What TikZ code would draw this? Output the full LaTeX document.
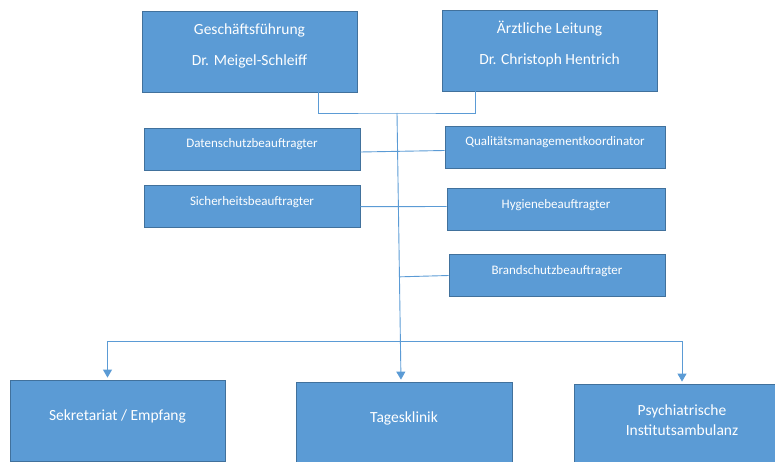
\documentclass[tikz,border=0pt]{standalone}
\usepackage{fontspec}
\setmainfont{Carlito}
\usetikzlibrary{arrows.meta,positioning,calc}
\definecolor{boxblue}{HTML}{5B9BD5}
\definecolor{boxline}{HTML}{41719C}
\definecolor{linkblue}{HTML}{5B9BD5}
\tikzset{
  bigbox/.style = { draw=boxline, fill=boxblue, text=white, line width=0.8pt,
    minimum width=215pt, minimum height=81pt, inner sep=0pt, align=center,
    font=\fontsize{15.5}{19}\selectfont, text height=11pt, text depth=#1 },
  bigbox/.default = 12pt,
  smbox/.style  = { draw=boxline, fill=boxblue, text=white, line width=0.8pt,
    minimum width=216pt, minimum height=42pt, inner sep=0pt,
    font=\fontsize{13}{16}\selectfont, text height=8pt, text depth=11pt },
  conn/.style   = { draw=linkblue, line width=0.9pt },
  arr/.style    = { conn, -{Triangle[width=9pt,length=8pt]}, shorten >=2pt }
}
\begin{document}
\begin{tikzpicture}[x=1pt,y=-1pt]
    \useasboundingbox (0,0) rectangle (775,462);
    % Leitung
    \node[bigbox=13pt, text height=42pt] (gf) at (249.5,51.5) {Geschäftsführung\\[12pt]Dr. Meigel-Schleiff};
    \node[bigbox=13pt, text height=42pt] (al) at (549.5,50.5) {Ärztliche Leitung\\[12pt]Dr. Christoph Hentrich};
    % Beauftragte
    \node[smbox] (ds) at (252,149) {Datenschutzbeauftragter};
    \node[smbox, minimum width=220pt] (qm) at (555,147.5) {Qualitätsmanagementkoordinator};
    \node[smbox] (sb) at (252,206.7) {Sicherheitsbeauftragter};
    \node[smbox, minimum width=218pt] (hy) at (556,209.5) {Hygienebeauftragter};
    \node[smbox] (bs) at (557,275.5) {Brandschutzbeauftragter};
    % Bereiche
    \node[bigbox] (sk) at (117.5,420.5) {Sekretariat / Empfang};
    \node[bigbox, minimum width=216pt] (tk) at (404,422.5) {Tagesklinik};
    \node[bigbox=10pt, text height=31pt, minimum width=216pt] (pa) at (682,424.5) {Psychiatrische\\[1pt]Institutsambulanz};
    \coordinate (jn) at (397,113);
    \coordinate (tkin) at ([xshift=-3pt]tk.north);
    \draw[conn] ([xshift=69pt]gf.south) |- (jn) -| ([xshift=-74.5pt]al.south);
    \draw[arr] (jn) -- (tkin);
    \path[conn] ([yshift=-3pt]ds.east) edge ([yshift=-3pt]qm.west)
                (sb.east) edge ([yshift=3pt]hy.west);
    \draw[conn] ($(jn)!0.61!(tkin)$) -- (bs.west);
    \coordinate (br) at ($(jn)!0.85!(tkin)$);
    \draw[arr] (br) -| ([xshift=-10pt]sk.north);
    \draw[arr] (br) -| (pa.north);
\end{tikzpicture}
\end{document}
